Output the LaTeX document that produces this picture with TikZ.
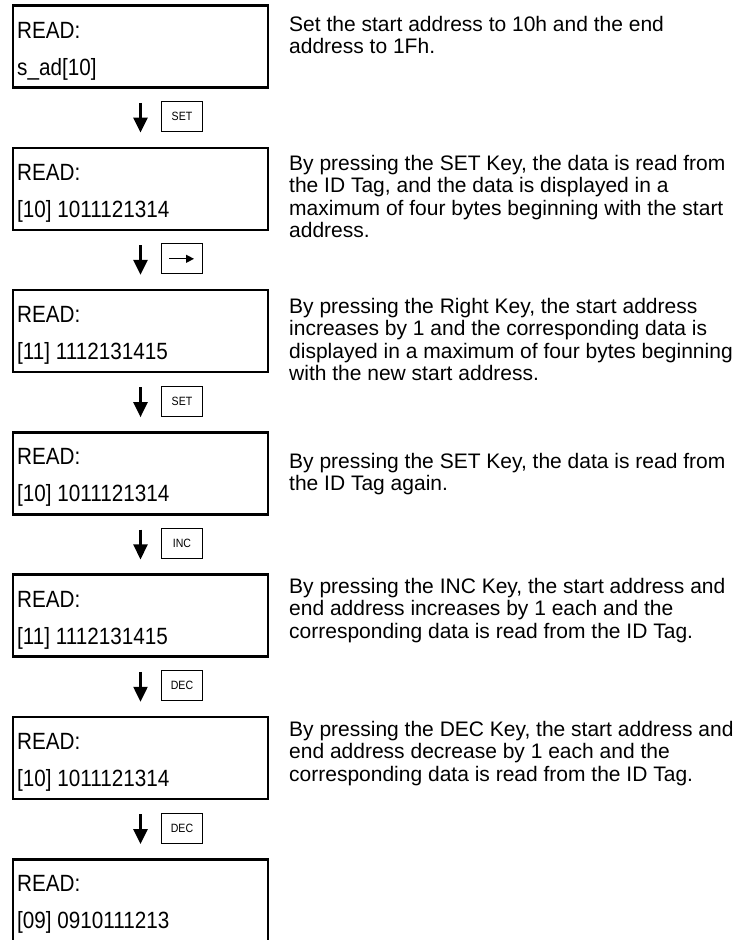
\documentclass[tikz,border=0pt]{standalone}
\usepackage{fontspec}
\setmainfont{Liberation Sans}
\newfontfamily\lcdfont[FakeStretch=0.88]{Liberation Sans}
\usetikzlibrary{positioning, arrows.meta}

\tikzset{
  lcdbox/.style={draw, line width=2.5pt, minimum width=255pt, minimum height=82pt, inner sep=0pt},
  lcdline/.style={anchor=base west, inner sep=0pt, font=\lcdfont\fontsize{23.5}{26}\selectfont},
  keybox/.style={draw, line width=1pt, minimum width=41pt, minimum height=30pt, inner sep=0pt,
    font=\lcdfont\fontsize{12}{13}\selectfont},
  flow/.style={line width=2.5pt, -{Triangle[length=15pt, width=14pt]}, shorten <=14pt, shorten >=14pt},
  % base anchor of a multi-line node sits on its last line
  desc/.style={anchor=base west, inner sep=0pt, align=left, font=\fontsize{21}{22.5}\selectfont},
}

\begin{document}
\begin{tikzpicture}[x=1pt, y=-1pt]
  \useasboundingbox (0, 0) rectangle (742, 940);
  % display screens, one per step
  \foreach \i/\scr in {1/{s\_ad[10]}, 2/{[10] 1011121314}, 3/{[11] 1112131415},
      4/{[10] 1011121314}, 5/{[11] 1112131415}, 6/{[10] 1011121314}, 7/{[09] 0910111213}}{
    \pgfmathsetmacro\ytop{4 + 142.3*(\i - 1)}
    \node[lcdbox] (b\i) at (140.5, \ytop + 42.5) {};
    \node[lcdline] (r\i) at (17, \ytop + 34) {READ:};
    \node[lcdline] (s\i) at (17, \ytop + 71) {\scr};
  }
  % flow arrows between screens
  \foreach \i [evaluate=\i as \j using int(\i + 1)] in {1, ..., 6}{
    \draw[flow] (b\i) -- (b\j);
  }
  % keys pressed
  \foreach \i/\key in {1/SET, 2/{}, 3/SET, 4/INC, 5/DEC, 6/DEC}{
    \pgfmathsetmacro\ytop{4 + 142.3*(\i - 1)}
    \node[keybox] (k\i) at (182, \ytop + 112.5) {\key};
  }
  \draw[line width=1.3pt, -{Triangle[length=8pt, width=8pt]}]
    ([xshift=-13pt]k2.center) -- ([xshift=12pt]k2.center);
  % step descriptions
  \node[desc] (d1) at (289, 53.5)  {Set the start address to 10h and the end\\address to 1Fh.};
  \node[desc] (d2) at (289, 237.5) {By pressing the SET Key, the data is read from\\the ID Tag, and the data is displayed in a\\maximum of four bytes beginning with the start\\address.};
  \node[desc] (d3) at (289, 380.5) {By pressing the Right Key, the start address\\increases by 1 and the corresponding data is\\displayed in a maximum of four bytes beginning\\with the new start address.};
  \node[desc] (d4) at (289, 490.5) {By pressing the SET Key, the data is read from\\the ID Tag again.};
  \node[desc] (d5) at (289, 638)   {By pressing the INC Key, the start address and\\end address increases by 1 each and the\\corresponding data is read from the ID Tag.};
  \node[desc] (d6) at (289, 781)   {By pressing the DEC Key, the start address and\\end address decrease by 1 each and the\\corresponding data is read from the ID Tag.};
\end{tikzpicture}
\end{document}
